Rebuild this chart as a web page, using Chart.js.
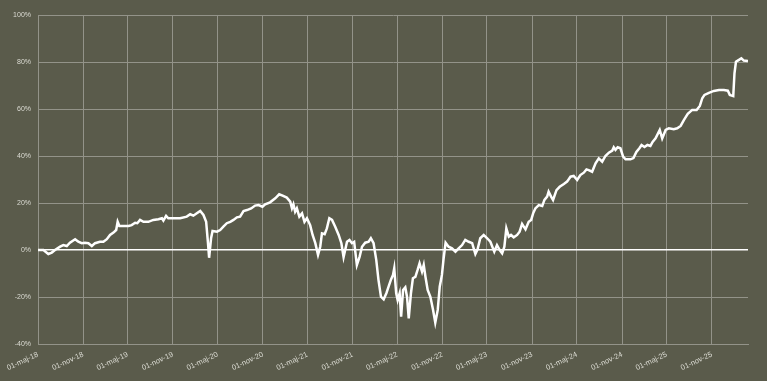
<!DOCTYPE html>
<html>
<head>
<meta charset="utf-8">
<script src="https://cdn.jsdelivr.net/npm/chart.js@4.4.1/dist/chart.umd.min.js"></script>
<style>
  html, body { margin:0; padding:0; background:#5a5b4b; }
  #wrap { width:767px; height:381px; }
</style>
</head>
<body>
<div id="wrap"><canvas id="perf" width="767" height="381"></canvas></div>
<script>
// Data: days since START_DATE and cumulative return in %
const START_DATE = '2018-05-01';

const dayOffset = [
  0, 22, 42, 56, 69, 90, 103, 117, 130, 151, 164, 178, 191, 205, 219, 232, 252, 266, 280, 293,
  307, 318, 324, 331, 347, 368, 381, 395, 404, 415, 429, 449, 469, 490, 504, 510, 521, 530, 551, 578,
  605, 619, 632, 646, 660, 673, 684, 691, 696, 704, 710, 728, 741, 754, 768, 782, 795, 809, 822, 836,
  850, 867, 883, 897, 913, 924, 944, 965, 981, 995, 1012, 1026, 1033, 1039, 1046, 1053, 1063, 1074, 1084, 1094,
  1107, 1117, 1128, 1139, 1148, 1155, 1166, 1175, 1185, 1196, 1209, 1223, 1234, 1243, 1257, 1267, 1277, 1286, 1297, 1308,
  1318, 1331, 1345, 1354, 1365, 1376, 1385, 1395, 1406, 1417, 1426, 1436, 1444, 1449, 1457, 1463, 1471, 1477, 1485, 1494,
  1501, 1508, 1517, 1525, 1535, 1544, 1552, 1562, 1569, 1576, 1585, 1596, 1607, 1616, 1626, 1634, 1643, 1650, 1658, 1670,
  1684, 1698, 1711, 1725, 1738, 1752, 1766, 1779, 1788, 1799, 1813, 1827, 1840, 1856, 1867, 1878, 1888, 1897, 1905, 1915,
  1924, 1935, 1949, 1959, 1969, 1983, 1996, 2006, 2014, 2023, 2037, 2051, 2060, 2071, 2077, 2087, 2095, 2109, 2122, 2139,
  2152, 2166, 2179, 2193, 2206, 2220, 2231, 2240, 2254, 2268, 2281, 2295, 2308, 2322, 2336, 2342, 2349, 2358, 2369, 2380,
  2390, 2410, 2422, 2434, 2447, 2455, 2467, 2479, 2491, 2500, 2512, 2529, 2539, 2553, 2566, 2586, 2600, 2614, 2627, 2643,
  2661, 2679, 2692, 2702, 2711, 2729, 2749, 2770, 2790, 2806, 2814, 2828, 2833, 2839, 2851, 2861, 2871, 2888
];

const returnPct = [
  0.0, 0.0, -1.7, -1.1, 0.0, 1.4, 2.1, 1.7, 3.1, 4.6, 3.5, 2.9, 3.1, 2.9, 1.7, 2.9, 3.5, 3.5, 4.6, 6.4,
  7.4, 8.5, 12.0, 10.2, 10.2, 10.2, 10.6, 11.6, 11.4, 12.8, 12.0, 12.0, 12.8, 13.1, 13.5, 12.5, 14.5, 13.5, 13.5, 13.5,
  14.2, 15.2, 14.6, 15.6, 16.6, 14.9, 12.0, 3.5, -3.3, 5.0, 8.1, 7.8, 8.5, 9.9, 11.4, 12.0, 12.8, 13.9, 14.2, 16.6,
  17.0, 17.7, 18.9, 19.1, 18.4, 19.4, 20.3, 22.0, 23.7, 23.1, 22.3, 20.6, 17.7, 19.4, 16.3, 17.7, 14.2, 15.6, 12.0, 13.5,
  10.6, 6.4, 2.9, -2.1, 1.4, 7.1, 6.7, 9.2, 13.5, 12.8, 9.9, 6.4, 2.9, -3.0, 3.5, 4.3, 2.9, 3.5, -6.4, -2.9,
  1.4, 3.1, 3.5, 5.0, 2.9, -4.3, -12.8, -19.9, -21.0, -18.4, -15.6, -12.5, -10.6, -7.8, -18.4, -21.3, -18.4, -28.4, -17.0, -15.9,
  -19.9, -29.1, -18.4, -12.0, -11.4, -8.5, -5.7, -9.2, -6.4, -11.4, -17.0, -19.9, -25.5, -30.9, -25.5, -15.6, -10.6, -3.5, 3.1, 1.4,
  0.7, -0.7, 0.7, 2.1, 4.3, 3.5, 2.9, -1.7, 0.3, 5.0, 6.4, 5.0, 3.5, -0.7, 2.1, 0.0, -1.4, 1.4, 9.2, 5.7,
  6.4, 5.4, 6.4, 7.8, 11.1, 8.8, 12.0, 12.8, 15.6, 17.7, 19.1, 18.7, 21.3, 22.7, 24.8, 22.7, 21.3, 25.5, 26.9, 28.1,
  29.1, 31.2, 31.5, 29.8, 31.9, 32.9, 34.3, 34.0, 33.3, 36.9, 39.0, 37.6, 40.0, 41.4, 42.3, 43.7, 42.6, 43.7, 43.3, 39.7,
  38.6, 38.6, 39.1, 41.7, 43.4, 44.7, 43.8, 44.7, 44.3, 46.0, 47.5, 51.1, 47.5, 51.1, 51.8, 51.4, 51.8, 52.8, 55.3, 57.9,
  59.6, 59.6, 61.3, 64.6, 66.0, 66.9, 67.7, 68.1, 68.1, 67.8, 66.0, 65.5, 75.2, 80.1, 80.9, 81.6, 80.6, 80.4
];

const tickDates = [
  '2018-05-01', '2018-11-01', '2019-05-01', '2019-11-01', '2020-05-01', '2020-11-01',
  '2021-05-01', '2021-11-01', '2022-05-01', '2022-11-01', '2023-05-01', '2023-11-01',
  '2024-05-01', '2024-11-01', '2025-05-01', '2025-11-01'
];
const tickLabels = [
  '01-maj-18', '01-nov-18', '01-maj-19', '01-nov-19', '01-maj-20', '01-nov-20',
  '01-maj-21', '01-nov-21', '01-maj-22', '01-nov-22', '01-maj-23', '01-nov-23',
  '01-maj-24', '01-nov-24', '01-maj-25', '01-nov-25'
];
const yTicks = [-40, -20, 0, 20, 40, 60, 80, 100];

// helpers
function daysFromStart(iso){
  const ms = Date.parse(iso + 'T00:00:00Z') - Date.parse(START_DATE + 'T00:00:00Z');
  return Math.round(ms / 86400000);
}
const tickDays = tickDates.map(daysFromStart);

const GRID = '#939389';
const TXT = '#dcdcd4';

const points = dayOffset.map((d, i) => ({ x: d, y: returnPct[i] }));

new Chart(document.getElementById('perf').getContext('2d'), {
  type: 'line',
  data: {
    datasets: [{
      data: points,
      borderColor: '#ffffff',
      borderWidth: 2.5,
      pointRadius: 0,
      tension: 0,
      fill: false
    }]
  },
  options: {
    responsive: false,
    animation: false,
    layout: { padding: { top: 15, right: 19, left: 0, bottom: 0 } },
    plugins: { legend: { display: false }, tooltip: { enabled: false } },
    scales: {
      x: {
        type: 'linear',
        min: 0,
        max: dayOffset[dayOffset.length - 1],
        afterBuildTicks: (scale) => { scale.ticks = tickDays.map(v => ({ value: v })); },
        afterFit: (scale) => { scale.height = 37; },
        ticks: {
          autoSkip: false,
          maxRotation: 25,
          minRotation: 25,
          padding: 6,
          color: TXT,
          font: { family: 'Liberation Sans', size: 7.5 },
          callback: (v) => {
            const i = tickDays.indexOf(v);
            return i >= 0 ? tickLabels[i] : '';
          }
        },
        grid: { color: GRID, lineWidth: 1, drawTicks: false },
        border: { color: GRID, width: 1 }
      },
      y: {
        min: -40,
        max: 100,
        afterBuildTicks: (scale) => { scale.ticks = yTicks.map(v => ({ value: v })); },
        afterFit: (scale) => { scale.width = 38; },
        ticks: {
          padding: 7,
          color: TXT,
          font: { family: 'Liberation Sans', size: 7 },
          callback: (v) => v + '%'
        },
        grid: {
          drawTicks: false,
          color: (ctx) => ctx.tick && ctx.tick.value === 0 ? '#ffffff' : GRID,
          lineWidth: (ctx) => ctx.tick && ctx.tick.value === 0 ? 1.5 : 1
        },
        border: { color: GRID, width: 1 }
      }
    }
  }
});
</script>
</body>
</html>
